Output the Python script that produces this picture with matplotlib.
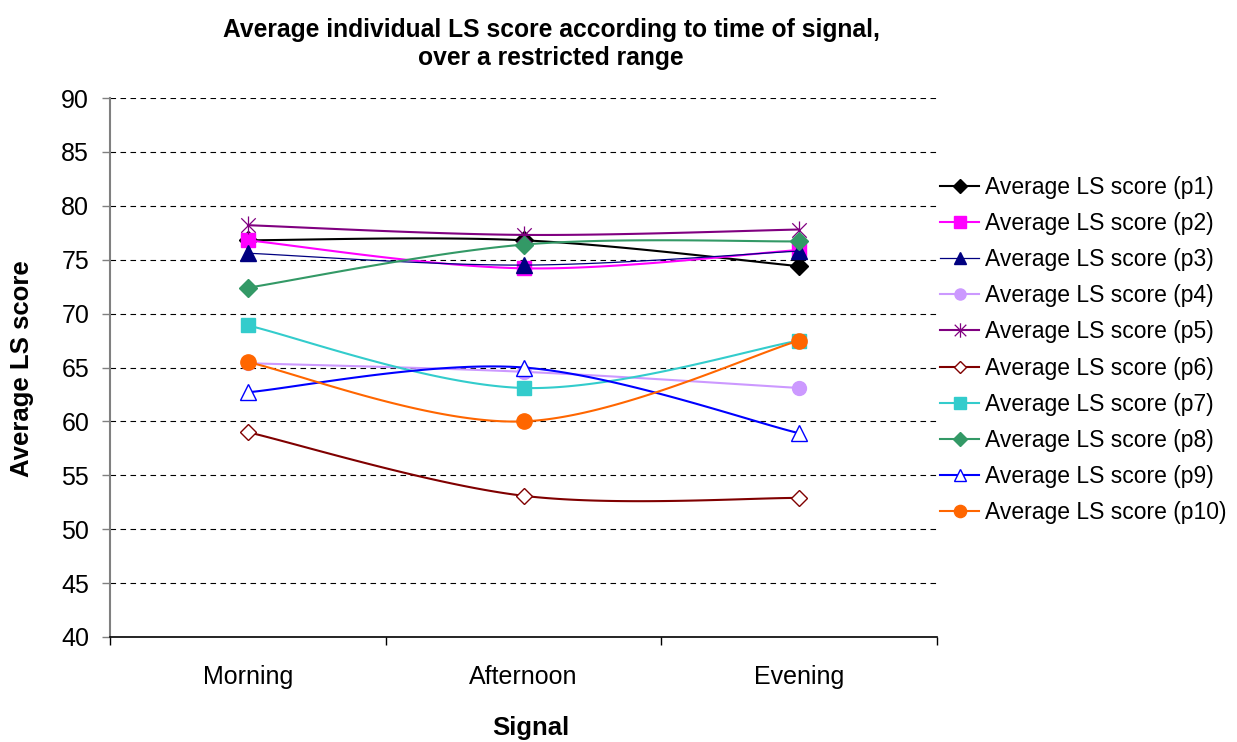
import numpy as np
import matplotlib
matplotlib.use("Agg")
import matplotlib.pyplot as plt
from matplotlib.lines import Line2D
from matplotlib.path import Path

plt.rcParams['font.family'] = ['Liberation Sans', 'DejaVu Sans']

categories = ["Morning", "Afternoon", "Evening"]
p1 = [76.8, 76.8, 74.4]
p2 = [76.8, 74.2, 75.9]
p3 = [75.6, 74.5, 75.8]
p4 = [65.4, 64.6, 63.1]
p5 = [78.2, 77.3, 77.8]
p6 = [59.0, 53.1, 52.9]
p7 = [68.9, 63.1, 67.5]
p8 = [72.4, 76.4, 76.7]
p9 = [62.7, 65.0, 58.9]
p10 = [65.5, 60.0, 67.5]

# asterisk marker: an X with a vertical bar through it
star = Path([(0, -1), (0, 1), (-0.8, -0.8), (0.8, 0.8), (-0.8, 0.8), (0.8, -0.8)],
            [Path.MOVETO, Path.LINETO, Path.MOVETO, Path.LINETO, Path.MOVETO, Path.LINETO])

series = [
    ("Average LS score (p1)", p1, dict(color="#000000", marker="D", mfc="#000000", ms=9, lw=1.5)),
    ("Average LS score (p2)", p2, dict(color="#FF00FF", marker="s", mfc="#FF00FF", ms=10, lw=1.5)),
    ("Average LS score (p3)", p3, dict(color="#000080", marker="^", mfc="#000080", ms=11, lw=0.9)),
    ("Average LS score (p4)", p4, dict(color="#CC99FF", marker="o", mfc="#CC99FF", ms=10, lw=1.5)),
    ("Average LS score (p5)", p5, dict(color="#800080", marker=star, mfc="#800080", ms=13, lw=1.5, mew=0.9)),
    ("Average LS score (p6)", p6, dict(color="#800000", marker="D", mfc="white", ms=8, lw=1.5, mew=1.0)),
    ("Average LS score (p7)", p7, dict(color="#33CCCC", marker="s", mfc="#33CCCC", ms=10, lw=1.5)),
    ("Average LS score (p8)", p8, dict(color="#339966", marker="D", mfc="#339966", ms=9, lw=1.5)),
    ("Average LS score (p9)", p9, dict(color="#0000FF", marker="^", mfc="white", ms=11, lw=1.5, mew=1.0)),
    ("Average LS score (p10)", p10, dict(color="#FF6600", marker="o", mfc="#FF6600", ms=11, lw=1.5)),
]


def smooth(xs, ys, n=60):
    """Bezier smoothing through the points (spreadsheet-style smoothed line)."""
    pts = np.column_stack([xs, ys]).astype(float)
    out = []
    m = len(pts)
    for i in range(m - 1):
        p0 = pts[i]
        p3 = pts[i + 1]
        prev = pts[i - 1] if i > 0 else pts[i]
        nxt = pts[i + 2] if i + 2 < m else pts[i + 1]
        c1 = p0 + (p3 - prev) / 6.0
        c2 = p3 - (nxt - p0) / 6.0
        t = np.linspace(0, 1, n)[:, None]
        seg = ((1 - t) ** 3) * p0 + 3 * ((1 - t) ** 2) * t * c1 + 3 * (1 - t) * t ** 2 * c2 + t ** 3 * p3
        out.append(seg if i == 0 else seg[1:])
    seg = np.vstack(out)
    return seg[:, 0], seg[:, 1]


W, H = 1237, 742
fig = plt.figure(figsize=(W / 100, H / 100), dpi=100)
ax = fig.add_axes([110 / W, 1 - 637 / H, (937 - 110) / W, (637 - 98) / H])

x = np.arange(len(categories))
handles = []
for z, (label, vals, st) in enumerate(series):
    sx, sy = smooth(x, vals)
    ax.plot(sx, sy, color=st["color"], lw=st["lw"], zorder=3 + z, solid_capstyle="round")
    ax.plot(x, vals, linestyle="none", marker=st["marker"], ms=st["ms"],
            mfc=st["mfc"], mec=st["color"], mew=st.get("mew", 1.0), zorder=3 + z,
            clip_on=False)
    handles.append(Line2D([0], [0], color=st["color"], lw=st["lw"], marker=st["marker"],
                          ms=st["ms"] * 0.8, mfc=st["mfc"], mec=st["color"],
                          mew=st.get("mew", 1.0), label=label))

ax.set_xlim(-0.5, len(categories) - 0.5)
ax.set_ylim(40, 90)
ax.set_yticks(np.arange(40, 91, 5))
ax.set_xticks(x)
ax.set_xticklabels(categories)
ax.set_xticks(np.arange(-0.5, len(categories), 1.0), minor=True)
ax.tick_params(axis="x", which="major", length=0, labelsize=18, pad=20)
ax.tick_params(axis="x", which="minor", length=6, width=1, color="black", direction="out")
ax.tick_params(axis="y", which="major", length=6, width=1, color="#808080", labelsize=18, pad=9)

ax.yaxis.grid(True, linestyle=(0, (5, 4)), color="black", lw=0.8)
ax.set_axisbelow(True)
for side in ("top", "right"):
    ax.spines[side].set_visible(False)
ax.spines["left"].set_color("#808080")
ax.spines["left"].set_linewidth(1.5)
ax.spines["bottom"].set_color("black")
ax.spines["bottom"].set_linewidth(1.2)

fig.text(531 / W, 1 - 728 / H, "Signal", ha="center", va="center",
         fontsize=18.5, fontweight="bold")
fig.text(22 / W, 1 - 369 / H, "Average LS score", ha="center", va="center",
         rotation=90, fontsize=18.5, fontweight="bold")

fig.text(551 / W, 1 - 44 / H,
         "Average individual LS score according to time of signal,\nover a restricted range",
         ha="center", va="center", fontsize=17.7, fontweight="bold", linespacing=1.2)

leg = ax.legend(handles=handles, loc="center left", bbox_to_anchor=(938 / W, 1 - 350 / H),
                bbox_transform=fig.transFigure, frameon=False, fontsize=16.5,
                handlelength=1.7, labelspacing=0.57, handletextpad=0.25, borderpad=0.1,
                borderaxespad=0)

fig.savefig("out.png", dpi=100)
